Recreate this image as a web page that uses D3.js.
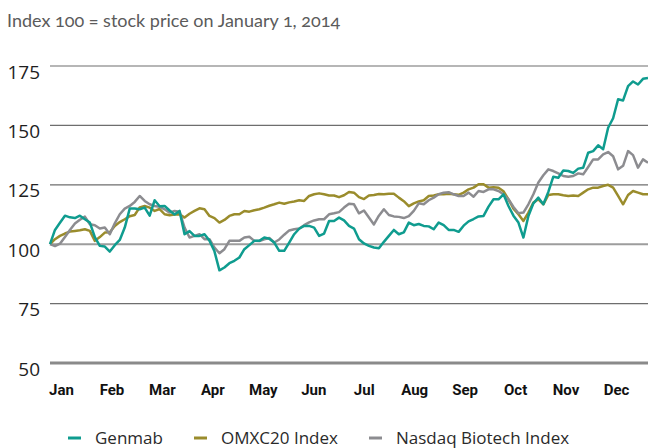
<!DOCTYPE html>
<html>
<head>
<meta charset="utf-8">
<script src="https://cdn.jsdelivr.net/npm/d3@7"></script>
<style>
  body { margin: 0; background: #fff; }
  svg { display: block; }
</style>
</head>
<body>
<svg id="chart" width="648" height="448"></svg>
<script>
// Index values, sampled evenly across 2014 (index 100 = Jan 1)
const months = ["Jan","Feb","Mar","Apr","May","Jun","Jul","Aug","Sep","Oct","Nov","Dec"];
const yTicks = [50, 75, 100, 125, 150, 175];

const genmab = [100,106,109,112,111.3,111,112,110.5,109.1,103,99.3,99,96.9,99.6,101.8,107,115,115,114.7,115.4,
  112,118.5,116,116.1,114.2,112.5,114,104.2,105.5,103.5,103.5,104.2,101.5,97,89,90.2,92,93,94.4,97.9,
  99.6,101.4,101.4,102.8,102.3,100.7,97.2,97.2,100.7,104.2,106.5,107.7,107.7,107,103.5,104.5,109.8,109.8,111.2,110,
  107.7,106.6,102.1,100.3,99.3,98.6,98.3,101,103.5,106,104.2,105,109.1,108,108.5,107.7,107.5,106.3,109.1,108,
  106,106,105.2,107.8,109.6,110.6,111.7,111.9,115.8,118.9,118.9,121,116.1,112,109.1,102.8,111.9,117.2,119.6,116.8,
  122,128.4,128,131,130.8,130,131.8,132.2,138.5,139.2,141.6,140,149,153,161,160.5,166.5,168.5,167.2,169.6,170];

const omxc20 = [100,102.1,103.5,104.5,105.3,105.6,105.9,106.3,105.6,101.4,103,104.9,105,107.7,109.3,110.5,111.8,112.3,115.5,116.1,
  115.4,114,114.8,112.6,112.2,112.5,112.6,111.2,112.8,114,115.1,114.7,111.9,111,109.1,110.2,111.9,112.6,112.6,114,
  113.7,114.3,114.7,115.4,116.2,116.8,117.5,117,117.6,118,118.5,118.2,120.3,121,121.4,121,120.5,120.5,119.8,120.6,
  122,121.7,119.8,119,120.5,120.7,121.1,121,121.2,121.2,119.6,118.1,116,117.2,118,118.5,120.3,120.5,121,121,
  121.2,121,120.8,121.7,123.1,123.8,125.2,125.2,123.8,124,123.8,122.3,118.9,115,112.6,109.8,113.3,117.5,118.9,116.8,
  120.7,121,121,120.6,120.3,120.5,120.3,121.7,123.1,123.8,123.8,124.5,125,123.8,120.3,116.8,120.7,122.4,121.7,121,121];

const nasdaqBiotech = [100,99.2,100.2,103,106,108.7,110.3,111.6,108.4,108,106.6,107,104.2,108.8,112.6,115,116.1,117.8,120.3,118.2,
  116.8,116.1,115.7,114.7,113.3,114,113.7,107,102.8,103.5,104.2,102.1,102.1,98.6,96.2,97.9,101.4,101.4,101.4,102.8,
  103.1,101.4,101.3,102.1,102.6,100.7,102,104,105.8,106.3,106.6,108,109.2,110,110.5,110.5,112.6,113,113.5,115.4,
  117,116.8,113,114.2,111.2,108.3,112,114.7,112.3,111.7,111.5,111,111.8,114,117.2,116.8,118.5,119.6,121,121.7,
  121.9,121,120.3,120.3,121.7,120,122.4,122,123.1,123.1,122.4,121,118.9,115.7,113,113.3,116.8,121,126,129,
  131.5,130.8,129.8,128.7,128.4,128.7,129.8,129.4,132.5,135.7,135.7,137.8,138.8,137,131.5,133,139.2,137.5,132.2,135.7,134.3];

const seriesNames = ["Genmab", "OMXC20 Index", "Nasdaq Biotech Index"];
const seriesColors = ["#0f9c8f", "#9a8c2c", "#8c8c90"];

const svg = d3.select("#chart");
const plotLeft = 50, plotRight = 648, plotTop = 66, plotBottom = 363;

const x = d3.scaleLinear().domain([0, genmab.length - 1]).range([plotLeft, plotRight]);
const y = d3.scaleLinear().domain([50, 175]).range([plotBottom, plotTop]);
const xMonth = d3.scalePoint().domain(months).range([61, 616]);

// title
svg.append("text")
  .attr("x", 7)
  .attr("y", 27)
  .style("font-family", "Lato, 'Open Sans', sans-serif")
  .style("font-size", "18px")
  .style("font-variant-numeric", "oldstyle-nums")
  .attr("fill", "#5b5b5b")
  .text("Index 100 = stock price on January 1, 2014");

// gridlines
svg.append("g")
  .selectAll("line")
  .data(yTicks)
  .join("line")
    .attr("x1", plotLeft)
    .attr("x2", plotRight)
    .attr("y1", d => y(d))
    .attr("y2", d => y(d))
    .attr("stroke", d => d === 50 ? "#8a8a8a" : d === 100 ? "#9d9d9d" : "#6e6e6e")
    .attr("stroke-width", d => d === 50 ? 3 : d === 100 ? 2 : 1.2);

// y axis labels
const yAxis = svg.append("g")
  .attr("transform", `translate(${plotLeft - 10},0)`)
  .call(d3.axisLeft(y).tickValues(yTicks).tickSize(0).tickPadding(0));
yAxis.select(".domain").remove();
yAxis.selectAll("text")
  .attr("dy", "12px")
  .style("font-family", "'Open Sans', sans-serif")
  .style("font-size", "19px")
  .attr("fill", "#1e1e1e");

// x axis month labels
const xAxis = svg.append("g")
  .attr("transform", `translate(0,${plotBottom + 18})`)
  .call(d3.axisBottom(xMonth).tickSize(0).tickPadding(0));
xAxis.select(".domain").remove();
xAxis.selectAll("text")
  .attr("dy", "14px")
  .style("font-family", "Roboto, sans-serif")
  .style("font-weight", "700")
  .style("font-size", "15px")
  .attr("fill", "#111");

// lines
const line = d3.line()
  .x((d, i) => x(i))
  .y(d => y(d));

const drawOrder = [[omxc20, 1], [nasdaqBiotech, 2], [genmab, 0]];
svg.append("g")
  .selectAll("path")
  .data(drawOrder)
  .join("path")
    .attr("d", d => line(d[0]))
    .attr("fill", "none")
    .attr("stroke", d => seriesColors[d[1]])
    .attr("stroke-width", 2.5)
    .attr("stroke-linejoin", "round");

// legend
const legendX = [68, 194, 369];
const legend = svg.append("g")
  .selectAll("g")
  .data(seriesNames)
  .join("g")
    .attr("transform", (d, i) => `translate(${legendX[i]},438)`);
legend.append("line")
  .attr("x1", 0)
  .attr("x2", 13)
  .attr("stroke", (d, i) => seriesColors[i])
  .attr("stroke-width", 3);
legend.append("text")
  .attr("x", 27)
  .attr("y", 6)
  .style("font-family", "'Open Sans', sans-serif")
  .style("font-size", "17px")
  .attr("fill", "#2a2a2a")
  .text(d => d);
</script>
</body>
</html>
